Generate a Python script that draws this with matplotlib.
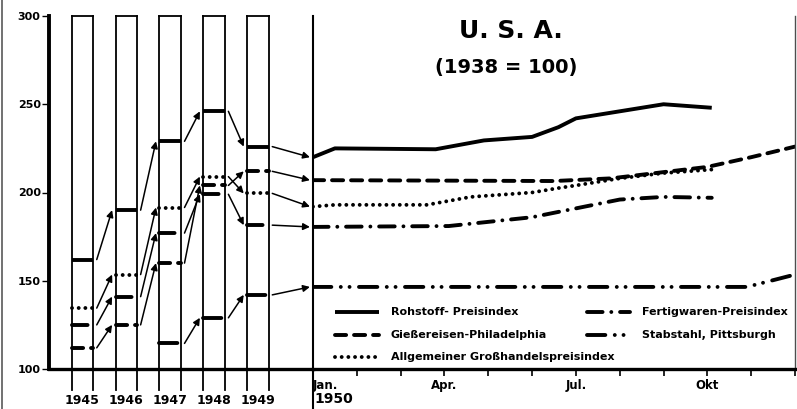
import matplotlib
matplotlib.use("Agg")
import matplotlib.pyplot as plt
from matplotlib.lines import Line2D

plt.rcParams["font.family"] = ["DejaVu Sans"]
plt.rcParams["lines.scale_dashes"] = False

# yearly values (1938 = 100)
years = [1945, 1946, 1947, 1948, 1949]
roh_year = [162, 190, 229, 246, 226]
giess_year = [112, 125, 160, 204, 212]
allg_year = [134.5, 153.5, 191.5, 209, 199.5]
fert_year = [125, 141, 177, 199, 181.5]
stab_year = [None, None, 114.5, 129, 142]

# 1950, months after January
roh_mx = [0, 0.5, 2.8, 3.9, 5.0, 5.6, 6.0, 7.0, 8.0, 9.1]
roh_m = [220, 225, 224.5, 229.5, 231.5, 237, 242, 246, 250, 248]
giess_mx = [0, 5.5, 6.8, 9.0, 10.0, 11.0]
giess_m = [207, 206.5, 208, 214.5, 220, 226]
allg_mx = [0, 0.5, 2.6, 3.6, 5.0, 5.6, 6.0, 7.0, 8.0, 9.1]
allg_m = [192, 193, 193, 197.5, 200, 202.5, 204, 208, 211, 213]
fert_mx = [0, 3.1, 5.0, 6.0, 7.0, 8.0, 9.1]
fert_m = [180.5, 181, 186, 191, 196, 197.5, 197]
stab_mx = [0, 9.9, 11]
stab_m = [146.5, 146.5, 153.5]

month_labels = ["Jan.", "", "", "Apr.", "", "", "Jul.", "", "", "Okt", "", ""]

names = ["Rohstoff- Preisindex", "Gießereisen-Philadelphia",
         "Allgemeiner Großhandelspreisindex", "Fertigwaren-Preisindex",
         "Stabstahl, Pittsburgh"]

styles = [
    dict(linestyle="-", lw=2.8, solid_capstyle="butt"),
    dict(dashes=(8, 5.7), lw=2.8, dash_capstyle="round"),
    dict(dashes=(0.01, 4.8), lw=2.8, dash_capstyle="round"),
    dict(dashes=(11.2, 6.3, 0.01, 6.3), lw=2.8, dash_capstyle="round"),
    dict(dashes=(13.2, 6.8, 0.01, 6.3, 0.01, 6.8), lw=2.8, dash_capstyle="round"),
]

yearly = [roh_year, giess_year, allg_year, fert_year, stab_year]
monthly = [(roh_mx, roh_m), (giess_mx, giess_m), (allg_mx, allg_m),
           (fert_mx, fert_m), (stab_mx, stab_m)]

fig = plt.figure(figsize=(7.97, 4.09), dpi=100)
ax1 = fig.add_axes([49 / 797, 40 / 409, 264 / 797, 353 / 409])
ax2 = fig.add_axes([313 / 797, 40 / 409, 482 / 797, 353 / 409], sharey=ax1)

ax1.set_ylim(100, 300)
ax1.set_xlim(1944.237, 1950.253)
ax2.set_xlim(0, 11)

w = 0.245
for yr in years:
    for xe in (yr - w, yr + w):
        ax1.axvline(xe, ymin=-0.06, ymax=1, color="black", lw=1.3, clip_on=False)
    ax1.plot([yr - w, yr + w], [300, 300], color="black", lw=1.3, clip_on=False)

# short marks in the year boxes
for vals, st in zip(yearly, styles):
    for yr, v in zip(years, vals):
        if v is not None:
            ax1.plot([yr - w, yr + w], [v, v], color="black", **st)

# arrows from year to year, and on to January 1950
xend = ax1.get_xlim()[1]
for vals, (mx, mv) in zip(yearly, monthly):
    for i in range(len(years)):
        if vals[i] is None:
            continue
        if i + 1 < len(years):
            x1, v1 = years[i + 1] - w - 0.08, vals[i + 1]
        else:
            x1, v1 = xend - 0.07, mv[0]
        ax1.annotate("", xy=(x1, v1), xytext=(years[i] + w + 0.08, vals[i]),
                     arrowprops=dict(arrowstyle="-|>", color="black", lw=1.1,
                                     shrinkA=0, shrinkB=0, mutation_scale=10),
                     annotation_clip=False)

# monthly curves 1950
for (mx, mv), st in zip(monthly, styles):
    ax2.plot(mx, mv, color="black", **st)

ax1.spines["top"].set_visible(False)
ax1.spines["right"].set_visible(False)
ax1.spines["left"].set_linewidth(2.8)
ax1.spines["bottom"].set_linewidth(2.4)
ax1.set_yticks([100, 150, 200, 250, 300])
ax1.tick_params(axis="y", direction="out", length=5, width=1, pad=1, labelsize=8)
for t in ax1.get_yticklabels():
    t.set_fontweight("bold")
ax1.set_xticks(years)
ax1.set_xticklabels([str(y) for y in years], fontsize=9, fontweight="bold")
ax1.tick_params(axis="x", length=0, pad=18)

for s in ["top", "left"]:
    ax2.spines[s].set_visible(False)
ax2.spines["bottom"].set_linewidth(2.4)
ax2.spines["right"].set_linewidth(1)
ax2.spines["right"].set_color("0.3")
ax2.tick_params(axis="y", left=False, labelleft=False)
ax2.set_xticks(range(12))
ax2.set_xticklabels(month_labels, fontsize=8.5, fontweight="bold")
ax2.get_xticklabels()[0].set_horizontalalignment("left")
ax2.tick_params(axis="x", direction="out", length=5, width=1.2, pad=2)
ax2.axvline(0, ymin=-0.12, ymax=1, color="black", lw=1.5, clip_on=False)
ax2.text(0.002, -0.085, "1950", transform=ax2.transAxes, ha="left", va="center",
         fontsize=10, fontweight="bold")

# legend drawn in the lower part of the 1950 panel
leg_pos = [(0.046, 0.162), (0.046, 0.096), (0.046, 0.034), (0.568, 0.162), (0.568, 0.096)]
for (lx, ly), name, st in zip(leg_pos, names, styles):
    ax2.plot([lx, lx + 0.09], [ly, ly], transform=ax2.transAxes, color="black", **st)
    ax2.text(lx + 0.115, ly, name, transform=ax2.transAxes, va="center",
             fontsize=8, fontweight="bold")

fig.text(0.641, 0.924, "U. S. A.", ha="center", va="center", fontsize=18, fontweight="bold")
fig.text(0.635, 0.834, "(1938 = 100)", ha="center", va="center", fontsize=14, fontweight="bold")

fig.add_artist(Line2D([0.003, 0.003], [0, 1], color="0.35", lw=1.2))

fig.savefig("out.png", dpi=100)
